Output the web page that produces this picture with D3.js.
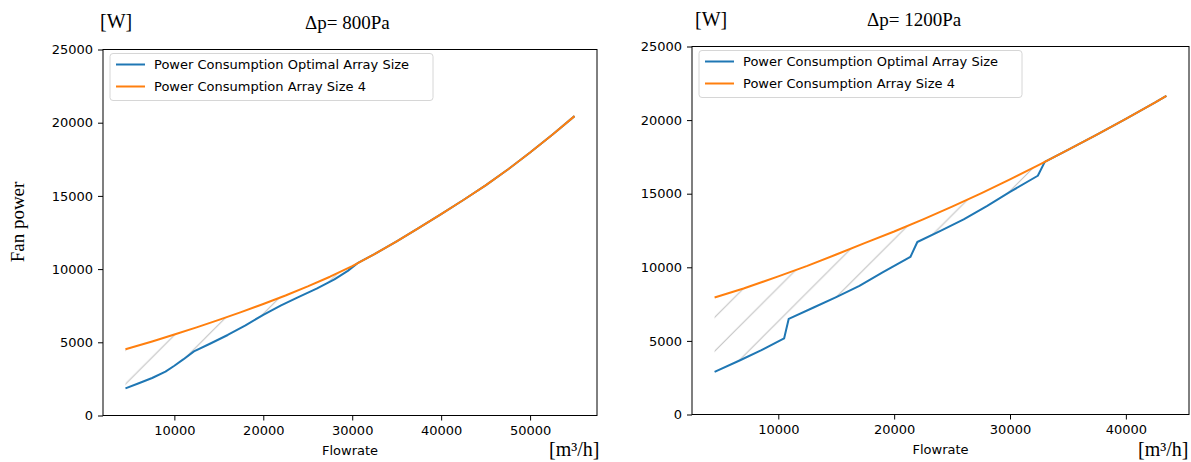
<!DOCTYPE html>
<html>
<head>
<meta charset="utf-8">
<script src="https://cdn.jsdelivr.net/npm/d3@7"></script>
<style>
  body { margin: 0; background: #fff; }
  svg text { font-family: "DejaVu Sans", sans-serif; }
  svg text.serif { font-family: "Liberation Serif", "Times New Roman", serif; }
</style>
</head>
<body>
<script>
const w = 1191;
const h = 462;

// left panel, dp = 800 Pa
const leftFlow4 = [4500, 7500, 10000, 12500, 15000, 17500, 20000, 22500, 25000, 27500, 30000,
                   32500, 35000, 37500, 40000, 42500, 45000, 47500, 50000, 52500, 55000];
const leftPower4 = [4520, 5060, 5530, 6020, 6530, 7060, 7620, 8200, 8820, 9480, 10200,
                    11020, 11900, 12820, 13760, 14720, 15720, 16800, 17960, 19180, 20450];
const leftFlowOpt = [4500, 6000, 7500, 9000, 10000, 11000, 12200, 14000, 16000, 18000, 20000,
                     22000, 24000, 26000, 28000, 29500, 30600, 32500, 35000, 37500, 40000,
                     42500, 45000, 47500, 50000, 52500, 55000];
const leftPowerOpt = [1850, 2200, 2560, 3000, 3400, 3830, 4380, 4900, 5500, 6160, 6880,
                      7520, 8100, 8670, 9300, 9880, 10400, 11020, 11900, 12820, 13760,
                      14720, 15720, 16800, 17960, 19180, 20450];
const leftXTicks = [10000, 20000, 30000, 40000, 50000];

// right panel, dp = 1200 Pa
const rightFlow4 = [4500, 7000, 10000, 12500, 15000, 17500, 20000, 22500, 25000, 27500, 30000,
                    32500, 35000, 37500, 40000, 42500, 43500];
const rightPower4 = [7950, 8560, 9380, 10100, 10870, 11660, 12430, 13260, 14120, 15020, 15970,
                     16960, 17970, 19010, 20080, 21180, 21650];
const rightFlowOpt = [4500, 6750, 8500, 10500, 10900, 13000, 15000, 17000, 19000, 21400, 22000,
                      24000, 26000, 28000, 30000, 32400, 33000, 35000, 37500, 40000, 42500, 43500];
const rightPowerOpt = [2900, 3700, 4350, 5170, 6500, 7250, 7980, 8740, 9650, 10700, 11720,
                       12470, 13250, 14150, 15120, 16220, 17160, 17970, 19010, 20080, 21180, 21650];
const rightXTicks = [10000, 20000, 30000, 40000];

const yTicks = [0, 5000, 10000, 15000, 20000, 25000];
const seriesNames = ["Power Consumption Optimal Array Size", "Power Consumption Array Size 4"];
const seriesColors = ["#1f77b4", "#ff7f0e"];

const panels = [
    {title: "\u0394p= 800Pa", flow4: leftFlow4, power4: leftPower4, flowOpt: leftFlowOpt, powerOpt: leftPowerOpt,
     xTicks: leftXTicks, left: 103, top: 49.5, right: 597, bottom: 415.5, hatch: 509.5,
     titleX: 305, titleY: 29, wX: 100, wY: 28, unitX: 549},
    {title: "\u0394p= 1200Pa", flow4: rightFlow4, power4: rightPower4, flowOpt: rightFlowOpt, powerOpt: rightPowerOpt,
     xTicks: rightXTicks, left: 692, top: 46.5, right: 1189, bottom: 414.5, hatch: 1032,
     titleX: 867, titleY: 26, wX: 695, wY: 26, unitX: 1138}
];

let svg = d3.select("body")
            .append("svg")
                .attr("width", w)
                .attr("height", h);

let defs = svg.append("defs");

panels.forEach(draw);

svg.append("text")
    .attr("class", "serif")
    .attr("transform", "translate(24,222) rotate(-90)")
    .attr("text-anchor", "middle")
    .attr("font-size", 19)
    .text("Fan power");

function draw(p, i) {
    let ext = d3.extent(p.flow4.concat(p.flowOpt));
    let padX = (ext[1] - ext[0]) * 0.05;

    let x = d3.scaleLinear()
        .domain([ext[0] - padX, ext[1] + padX])
        .range([p.left, p.right]);
    let y = d3.scaleLinear()
        .domain([0, 25000])
        .range([p.bottom, p.top]);

    let line = d3.line()
        .x(d => x(d[0]))
        .y(d => y(d[1]));

    let s = 33.8;
    defs.append("pattern")
        .attr("id", "hatch" + i)
        .attr("patternUnits", "userSpaceOnUse")
        .attr("width", s)
        .attr("height", s)
        .attr("x", ((p.hatch % s) + s) % s)
        .attr("y", 0)
        .append("path")
            .attr("d", `M0,${s}L${s},0M-2,2L2,-2M${s - 2},${s + 2}L${s + 2},${s - 2}`)
            .attr("stroke", "#bebebe")
            .attr("stroke-width", 1);

    defs.append("clipPath")
        .attr("id", "clip" + i)
        .append("rect")
            .attr("x", p.left)
            .attr("y", p.top)
            .attr("width", p.right - p.left)
            .attr("height", p.bottom - p.top);

    let opt = p.flowOpt.map((f, k) => [f, p.powerOpt[k]]);
    let four = p.flow4.map((f, k) => [f, p.power4[k]]);

    let plot = svg.append("g").attr("clip-path", `url(#clip${i})`);

    plot.append("path")
        .attr("d", line(four.concat(opt.slice().reverse())) + "Z")
        .attr("fill", `url(#hatch${i})`)
        .attr("stroke", "none");

    [opt, four].forEach((data, k) => {
        plot.append("path")
            .attr("d", line(data))
            .attr("fill", "none")
            .attr("stroke", seriesColors[k])
            .attr("stroke-width", 2)
            .attr("stroke-linejoin", "round");
    });

    let xAxis = svg.append("g")
        .attr("transform", "translate(0," + p.bottom + ")")
        .call(d3.axisBottom(x).tickValues(p.xTicks).tickFormat(d3.format("d"))
              .tickSize(5).tickPadding(5).tickSizeOuter(0));
    let yAxis = svg.append("g")
        .attr("transform", "translate(" + p.left + ",0)")
        .call(d3.axisLeft(y).tickValues(yTicks).tickFormat(d3.format("d"))
              .tickSize(5).tickPadding(5).tickSizeOuter(0));
    [xAxis, yAxis].forEach(a => {
        a.select(".domain").remove();
        a.selectAll("text").attr("font-family", "DejaVu Sans").attr("font-size", 13).attr("fill", "#000");
        a.selectAll("line").attr("stroke", "#000");
    });

    svg.append("rect")
        .attr("x", p.left)
        .attr("y", p.top)
        .attr("width", p.right - p.left)
        .attr("height", p.bottom - p.top)
        .attr("fill", "none")
        .attr("stroke", "#000")
        .attr("stroke-width", 1);

    svg.append("text")
        .attr("x", (p.left + p.right) / 2)
        .attr("y", p.bottom + 39)
        .attr("text-anchor", "middle")
        .attr("font-size", 13)
        .text("Flowrate");

    // legend
    let lg = svg.append("g").attr("transform", `translate(${p.left + 7},${p.top + 4})`);
    lg.append("rect")
        .attr("width", 323)
        .attr("height", 47)
        .attr("rx", 3)
        .attr("fill", "#fff")
        .attr("fill-opacity", 0.8)
        .attr("stroke", "#d6d6d6");
    seriesNames.forEach((name, k) => {
        let cy = 11 + k * 22;
        lg.append("line")
            .attr("x1", 6).attr("x2", 35)
            .attr("y1", cy).attr("y2", cy)
            .attr("stroke", seriesColors[k])
            .attr("stroke-width", 2);
        lg.append("text")
            .attr("x", 44)
            .attr("y", cy)
            .attr("dy", "0.36em")
            .attr("font-size", 13)
            .attr("fill", "#000")
            .text(name);
    });

    svg.append("text").attr("class", "serif")
        .attr("x", p.titleX).attr("y", p.titleY)
        .attr("font-size", 19)
        .text(p.title);
    svg.append("text").attr("class", "serif")
        .attr("x", p.wX).attr("y", p.wY)
        .attr("font-size", 20)
        .text("[W]");
    svg.append("text").attr("class", "serif")
        .attr("x", p.unitX).attr("y", 456)
        .attr("font-size", 20)
        .text("[m\u00b3/h]");
}
</script>
</body>
</html>
